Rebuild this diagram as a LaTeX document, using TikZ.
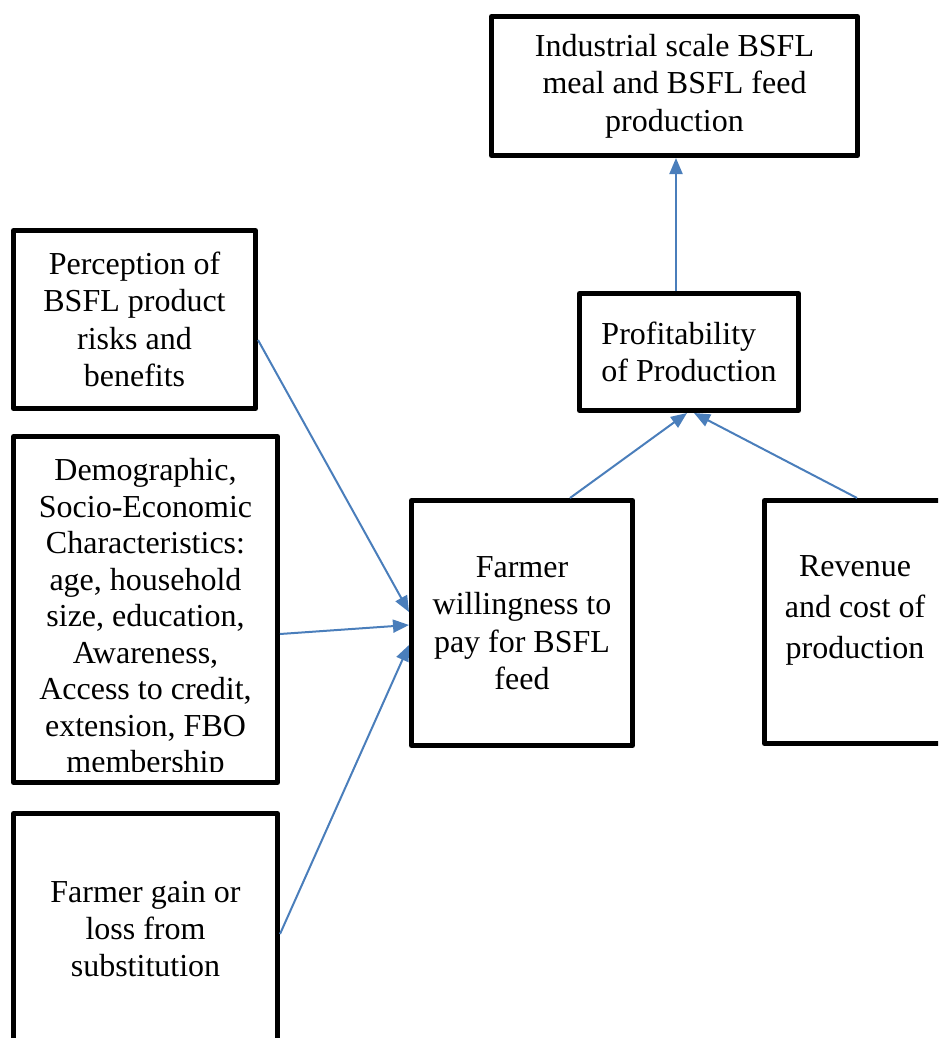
\documentclass[tikz,border=0pt]{standalone}
\usepackage{fontspec}
\setmainfont{Liberation Serif}
\usetikzlibrary{arrows.meta}
\definecolor{arrowblue}{RGB}{74,126,187}
\begin{document}
\begin{tikzpicture}[x=1pt,y=-1pt,
  box/.style={draw=black, line width=5pt, line join=round, rectangle, inner sep=0pt, align=center,
    font=\fontsize{32}{37.5}\selectfont},
  txt/.style={inner sep=0pt, align=center},
  conn/.style={draw=arrowblue, line width=2pt, -{Triangle[length=16pt,width=13pt]}}]
\useasboundingbox (0,0) rectangle (938,1038);
\clip (0,0) rectangle (938,1038);
% boxes
\node[box, minimum width=366pt, minimum height=139pt] (ind) at (674.5,86)
  {Industrial scale BSFL\\meal and BSFL feed\\production};
\node[box, minimum width=219pt, minimum height=117pt, align=left] (prof) at (689,352)
  {Profitability\\of Production};
\node[box, minimum width=242pt, minimum height=178pt] (perc) at (134.5,319.5)
  {Perception of\\BSFL product\\risks and\\benefits};
\node[box, minimum width=264pt, minimum height=346pt] (demo) at (145.5,609.5) {};
\begin{scope}
  \clip (14,437) rectangle (277,771);
  \node[txt, font=\fontsize{32}{36.5}\selectfont] (demotxt) at (145.5,619)
    {Demographic,\\Socio-Economic\\Characteristics:\\age, household\\size, education,\\Awareness,\\Access to credit,\\extension, FBO\\membership};
\end{scope}
\node[box, minimum width=264pt, minimum height=254pt] (gain) at (145.5,940.5) {};
\node[txt, font=\fontsize{32}{37}\selectfont] (gaintxt) at (145.5,929)
  {Farmer gain or\\loss from\\substitution};
\node[box, minimum width=221pt, minimum height=245pt] (will) at (522,623)
  {Farmer\\willingness to\\pay for BSFL\\feed};
\node[box, minimum width=233pt, minimum height=243pt] (rev) at (881,622) {};
\node[txt, font=\fontsize{32}{41}\selectfont] (revtxt) at (855,610)
  {Revenue\\and cost of\\production};
% connectors
\draw[conn] ([yshift=-20.5pt]perc.east) -- ([yshift=11pt]will.west);
\draw[conn] ([yshift=-24.5pt]demo.east) -- ([yshift=-2pt]will.west);
\draw[conn] ([yshift=6.5pt]gain.east) -- ([yshift=-22pt]will.west);
\draw[conn] ([xshift=48pt]will.north) -- ([xshift=-2pt]prof.south);
\draw[conn] ([xshift=-24pt]rev.north) -- ([xshift=5pt]prof.south);
\draw[conn] ([xshift=-13pt]prof.north) -- ([xshift=1.5pt]ind.south);
\end{tikzpicture}
\end{document}
